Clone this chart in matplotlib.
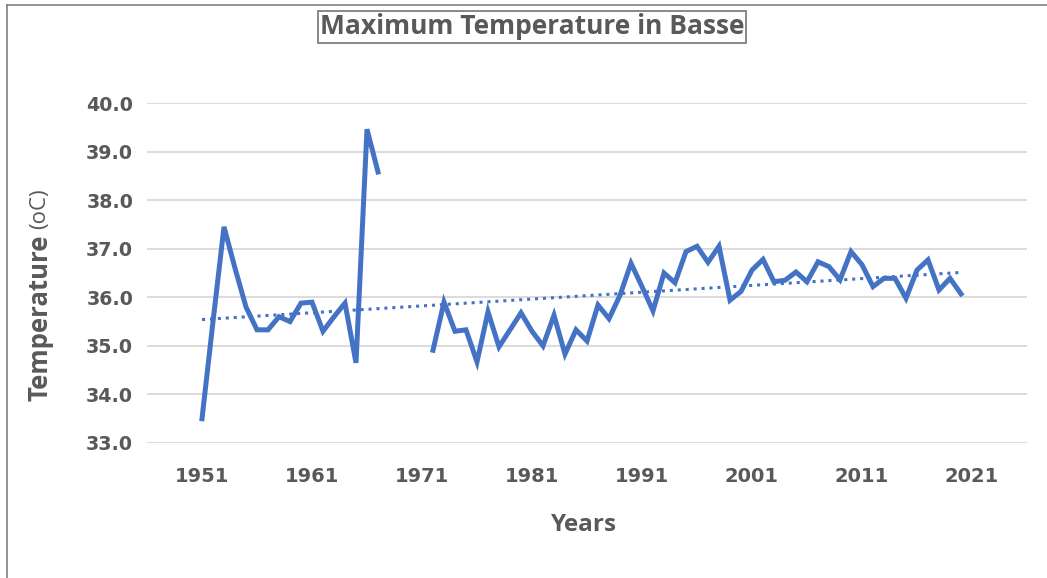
import numpy as np
import matplotlib
matplotlib.use("Agg")
import matplotlib.pyplot as plt
from matplotlib.lines import Line2D

# annual maximum temperature at Basse (nan = no record)
years = list(range(1951, 2021))
tmax = [33.5, 35.5, 37.45, 36.6, 35.8, 35.33, 35.33, 35.6, 35.5, 35.88,
        35.9, 35.3, 35.6, 35.88, 34.65, 39.46, 38.58, np.nan, np.nan, np.nan,
        np.nan, 34.91, 35.9, 35.3, 35.33, 34.67, 35.7, 34.98, 35.33, 35.68,
        35.3, 35.0, 35.63, 34.83, 35.33, 35.1, 35.84, 35.56, 36.04, 36.7,
        36.22, 35.72, 36.5, 36.3, 36.94, 37.05, 36.72, 37.05, 35.94, 36.12,
        36.56, 36.78, 36.32, 36.35, 36.52, 36.32, 36.73, 36.63, 36.36, 36.94,
        36.67, 36.22, 36.39, 36.39, 35.98, 36.56, 36.77, 36.15, 36.39, 36.07]
xticks = [1951, 1961, 1971, 1981, 1991, 2001, 2011, 2021]
yticks = [33.0, 34.0, 35.0, 36.0, 37.0, 38.0, 39.0, 40.0]

blue = "#4472C4"
grey = "#595959"
plt.rcParams["font.family"] = ["Open Sans", "DejaVu Sans"]

x = np.array(years, dtype=float)
y = np.array(tmax, dtype=float)
ok = ~np.isnan(y)
slope, icpt = np.polyfit(x[ok], y[ok], 1)

fig = plt.figure(figsize=(10.47, 5.78), dpi=100)
ax = fig.add_axes([147 / 1047, 1 - 443 / 578, 880 / 1047, 340 / 578])

ax.plot(x, y, color=blue, lw=3.6, solid_joinstyle="miter")
ax.plot([x[0], x[-1]], [icpt + slope * x[0], icpt + slope * x[-1]],
        color=blue, lw=2.2, linestyle=(0, (1, 1.6)))

ax.set_xlim(1946, 2026)
ax.set_ylim(33, 40)
ax.set_xticks(xticks)
ax.set_yticks(yticks)
ax.set_yticklabels([f"{v:.1f}" for v in yticks])
ax.grid(axis="y", color="#D9D9D9", lw=1.3)
ax.set_axisbelow(True)
for s in ax.spines.values():
    s.set_visible(False)
ax.tick_params(length=0, labelcolor=grey)
ax.tick_params(axis="y", pad=10)
ax.tick_params(axis="x", pad=17)
for lab in ax.get_yticklabels():
    lab.set_fontfamily("DejaVu Sans")
    lab.set_fontweight("bold")
    lab.set_fontsize(13.7)
for lab in ax.get_xticklabels():
    lab.set_fontfamily("DejaVu Sans")
    lab.set_fontweight("bold")
    lab.set_fontsize(14)

fig.text(584 / 1047, 1 - 525 / 578, "Years", ha="center", va="center",
         fontsize=17.5, fontweight="bold", color=grey)

# y label: bold word plus lighter unit
fig.text(40 / 1047, 1 - 401 / 578, "Temperature", rotation=90, ha="center",
         va="bottom", fontsize=18.5, fontweight="bold", color=grey)
fig.text(40 / 1047, 1 - 229 / 578, "(oC)", rotation=90, ha="center",
         va="bottom", fontsize=16, color=grey)

fig.text(532 / 1047, 1 - 27 / 578, "Maximum Temperature in Basse", ha="center",
         va="center", fontsize=19, fontweight="bold", color=grey,
         bbox=dict(boxstyle="square,pad=0.08", fc="white", ec="#7F7F7F", lw=1.3))

# chart frame (left and top edges visible)
fig.add_artist(Line2D([7 / 1047, 7 / 1047], [0, 1 - 5 / 578], color="#7F7F7F", lw=1.2))
fig.add_artist(Line2D([7 / 1047, 1], [1 - 5 / 578, 1 - 5 / 578], color="#7F7F7F", lw=1.2))

fig.savefig("out.png", dpi=100)
